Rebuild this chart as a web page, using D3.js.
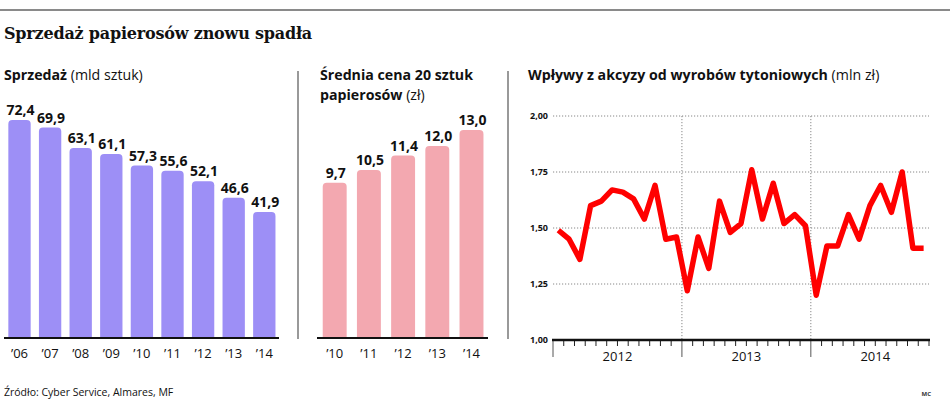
<!DOCTYPE html>
<html>
<head>
<meta charset="utf-8">
<script src="https://cdn.jsdelivr.net/npm/d3@7"></script>
<style>
  body { margin: 0; background: #fff; }
  text { font-family: "Open Sans", "Noto Sans", sans-serif; }
</style>
</head>
<body>
<script>
// Sprzedaż papierosów - three small panels

const salesYears = ["’06", "’07", "’08", "’09", "’10", "’11", "’12", "’13", "’14"];
const salesValues = [72.4, 69.9, 63.1, 61.1, 57.3, 55.6, 52.1, 46.6, 41.9];

const priceYears = ["’10", "’11", "’12", "’13", "’14"];
const priceValues = [9.7, 10.5, 11.4, 12.0, 13.0];

// excise, monthly Jan 2012 - Nov 2014 (mln zł)
const exciseYears = ["2012", "2013", "2014"];
const exciseValues = [
  1.49, 1.45, 1.36, 1.60, 1.62, 1.67, 1.66, 1.63, 1.54, 1.69, 1.45, 1.46,
  1.22, 1.46, 1.32, 1.62, 1.48, 1.52, 1.76, 1.54, 1.70, 1.52, 1.56, 1.51,
  1.20, 1.42, 1.42, 1.56, 1.45, 1.60, 1.69, 1.57, 1.75, 1.41, 1.41
];
const exciseTicks = [1.00, 1.25, 1.50, 1.75, 2.00];

const fmt = d3.format(".1f");
const comma = s => s.replace(".", ",");

const svg = d3.select("body").append("svg")
  .attr("width", 950)
  .attr("height", 406);

// top rule
svg.append("line")
  .attr("x1", 0).attr("x2", 950)
  .attr("y1", 10).attr("y2", 10)
  .attr("stroke", "#8a8a8a")
  .attr("stroke-width", 2);

svg.append("text")
  .attr("x", 4).attr("y", 39)
  .style("font-family", "'DejaVu Serif', serif")
  .style("font-weight", "bold")
  .style("font-size", "16px")
  .style("letter-spacing", "-0.2px")
  .attr("fill", "#111")
  .text("Sprzedaż papierosów znowu spadła");

function heading(x, y, bold, normal) {
  const t = svg.append("text").attr("x", x).attr("y", y)
    .style("font-size", "14.2px").attr("fill", "#111");
  t.append("tspan").style("font-weight", "bold").text(bold);
  if (normal) t.append("tspan").text(" " + normal);
}
heading(4, 80, "Sprzedaż", "(mld sztuk)");
heading(320, 80, "Średnia cena 20 sztuk", null);
heading(320, 100, "papierosów", "(zł)");
heading(528, 80, "Wpływy z akcyzy od wyrobów tytoniowych", "(mln zł)");

// separators
[298, 508].forEach(x => {
  svg.append("line")
    .attr("x1", x).attr("x2", x)
    .attr("y1", 71).attr("y2", 339)
    .attr("stroke", "#777")
    .attr("stroke-width", 1.5);
});

function roundedTop(x, y, w, h, r) {
  return `M${x},${y + h}V${y + r}Q${x},${y} ${x + r},${y}H${x + w - r}Q${x + w},${y} ${x + w},${y + r}V${y + h}Z`;
}

function barPanel(opts) {
  const g = svg.append("g");
  const x = d3.scaleBand()
    .domain(opts.labels)
    .range([opts.x0, opts.x1])
    .paddingInner(opts.pad)
    .paddingOuter(opts.pad / 2);
  const y = d3.scaleLinear()
    .domain([0, opts.max])
    .range([opts.base, opts.base - opts.max * opts.pxPerUnit]);

  g.append("line")
    .attr("x1", opts.lineX0).attr("x2", opts.lineX1)
    .attr("y1", opts.base).attr("y2", opts.base)
    .attr("stroke", "#111").attr("stroke-width", 2);

  g.selectAll("path.bar")
    .data(opts.values)
    .join("path")
    .attr("class", "bar")
    .attr("fill", opts.color)
    .attr("d", (d, i) => roundedTop(x(opts.labels[i]), y(d), x.bandwidth(), opts.base - 1 - y(d), 4));

  g.selectAll("text.val")
    .data(opts.values)
    .join("text")
    .attr("class", "val")
    .attr("x", (d, i) => x(opts.labels[i]) + x.bandwidth() / 2 + 1)
    .attr("y", d => y(d) - 5)
    .attr("text-anchor", "middle")
    .style("font-size", "14px")
    .style("font-weight", "bold")
    .attr("fill", "#111")
    .text(d => comma(fmt(d)));

  g.selectAll("text.cat")
    .data(opts.labels)
    .join("text")
    .attr("class", "cat")
    .attr("x", d => x(d) + x.bandwidth() / 2)
    .attr("y", 358)
    .attr("text-anchor", "middle")
    .style("font-size", "13px")
    .attr("fill", "#111")
    .text(d => d);
}

barPanel({
  labels: salesYears, values: salesValues,
  x0: 4.2, x1: 279.6, pad: 0.27,
  lineX0: 4, lineX1: 279,
  base: 338, max: 80, pxPerUnit: 3.01,
  color: "#9d8ff6"
});

barPanel({
  labels: priceYears, values: priceValues,
  x0: 317.6, x1: 488.6, pad: 0.3,
  lineX0: 317, lineX1: 488,
  base: 338, max: 14, pxPerUnit: 16,
  color: "#f3a8b0"
});

// line chart
const lc = svg.append("g");
const lx = d3.scaleLinear().domain([0, 35]).range([553, 929]);
const ly = d3.scaleLinear().domain([1, 2]).range([340, 116]);

lc.selectAll("line.hgrid")
  .data(exciseTicks.filter(d => d > 1))
  .join("line")
  .attr("class", "hgrid")
  .attr("x1", lx(0)).attr("x2", lx(35))
  .attr("y1", d => ly(d)).attr("y2", d => ly(d))
  .attr("stroke", "#888")
  .attr("stroke-width", 1)
  .attr("stroke-dasharray", "1.2,1.8");

lc.selectAll("line.vgrid")
  .data([12, 24])
  .join("line")
  .attr("class", "vgrid")
  .attr("x1", d => lx(d)).attr("x2", d => lx(d))
  .attr("y1", ly(2)).attr("y2", ly(1))
  .attr("stroke", "#888")
  .attr("stroke-width", 1)
  .attr("stroke-dasharray", "1.2,1.8");

lc.selectAll("text.ytick")
  .data(exciseTicks)
  .join("text")
  .attr("class", "ytick")
  .attr("x", 548)
  .attr("y", d => ly(d) + 3)
  .attr("text-anchor", "end")
  .style("font-size", "9px")
  .style("font-weight", "bold")
  .attr("fill", "#111")
  .text(d => comma(d3.format(".2f")(d)));

// month ticks
lc.selectAll("line.mtick")
  .data(d3.range(0, 36))
  .join("line")
  .attr("class", "mtick")
  .attr("x1", d => lx(d)).attr("x2", d => lx(d))
  .attr("y1", ly(1))
  .attr("y2", d => (d % 12 === 0 ? 357 : 346))
  .attr("stroke", d => (d % 12 === 0 ? "#555" : "#222"))
  .attr("stroke-width", 1);

lc.append("line")
  .attr("x1", lx(0) - 1).attr("x2", lx(35) + 1)
  .attr("y1", ly(1)).attr("y2", ly(1))
  .attr("stroke", "#111")
  .attr("stroke-width", 2.5);

lc.selectAll("text.year")
  .data(exciseYears)
  .join("text")
  .attr("class", "year")
  .attr("x", (d, i) => lx(i * 12 + 6))
  .attr("y", 361)
  .attr("text-anchor", "middle")
  .style("font-size", "13px")
  .attr("fill", "#111")
  .text(d => d);

const line = d3.line()
  .x((d, i) => lx(i + 0.5))
  .y(d => ly(d));

lc.append("path")
  .datum(exciseValues)
  .attr("fill", "none")
  .attr("stroke", "#ff0000")
  .attr("stroke-width", 5.5)
  .attr("stroke-linejoin", "round")
  .attr("d", line);

svg.append("text")
  .attr("x", 4).attr("y", 396)
  .style("font-size", "10.5px")
  .attr("fill", "#111")
  .text("Źródło: Cyber Service, Almares, MF");

svg.append("text")
  .attr("x", 931).attr("y", 396)
  .attr("text-anchor", "end")
  .style("font-size", "6px")
  .style("font-weight", "bold")
  .attr("fill", "#333")
  .text("MC");
</script>
</body>
</html>
